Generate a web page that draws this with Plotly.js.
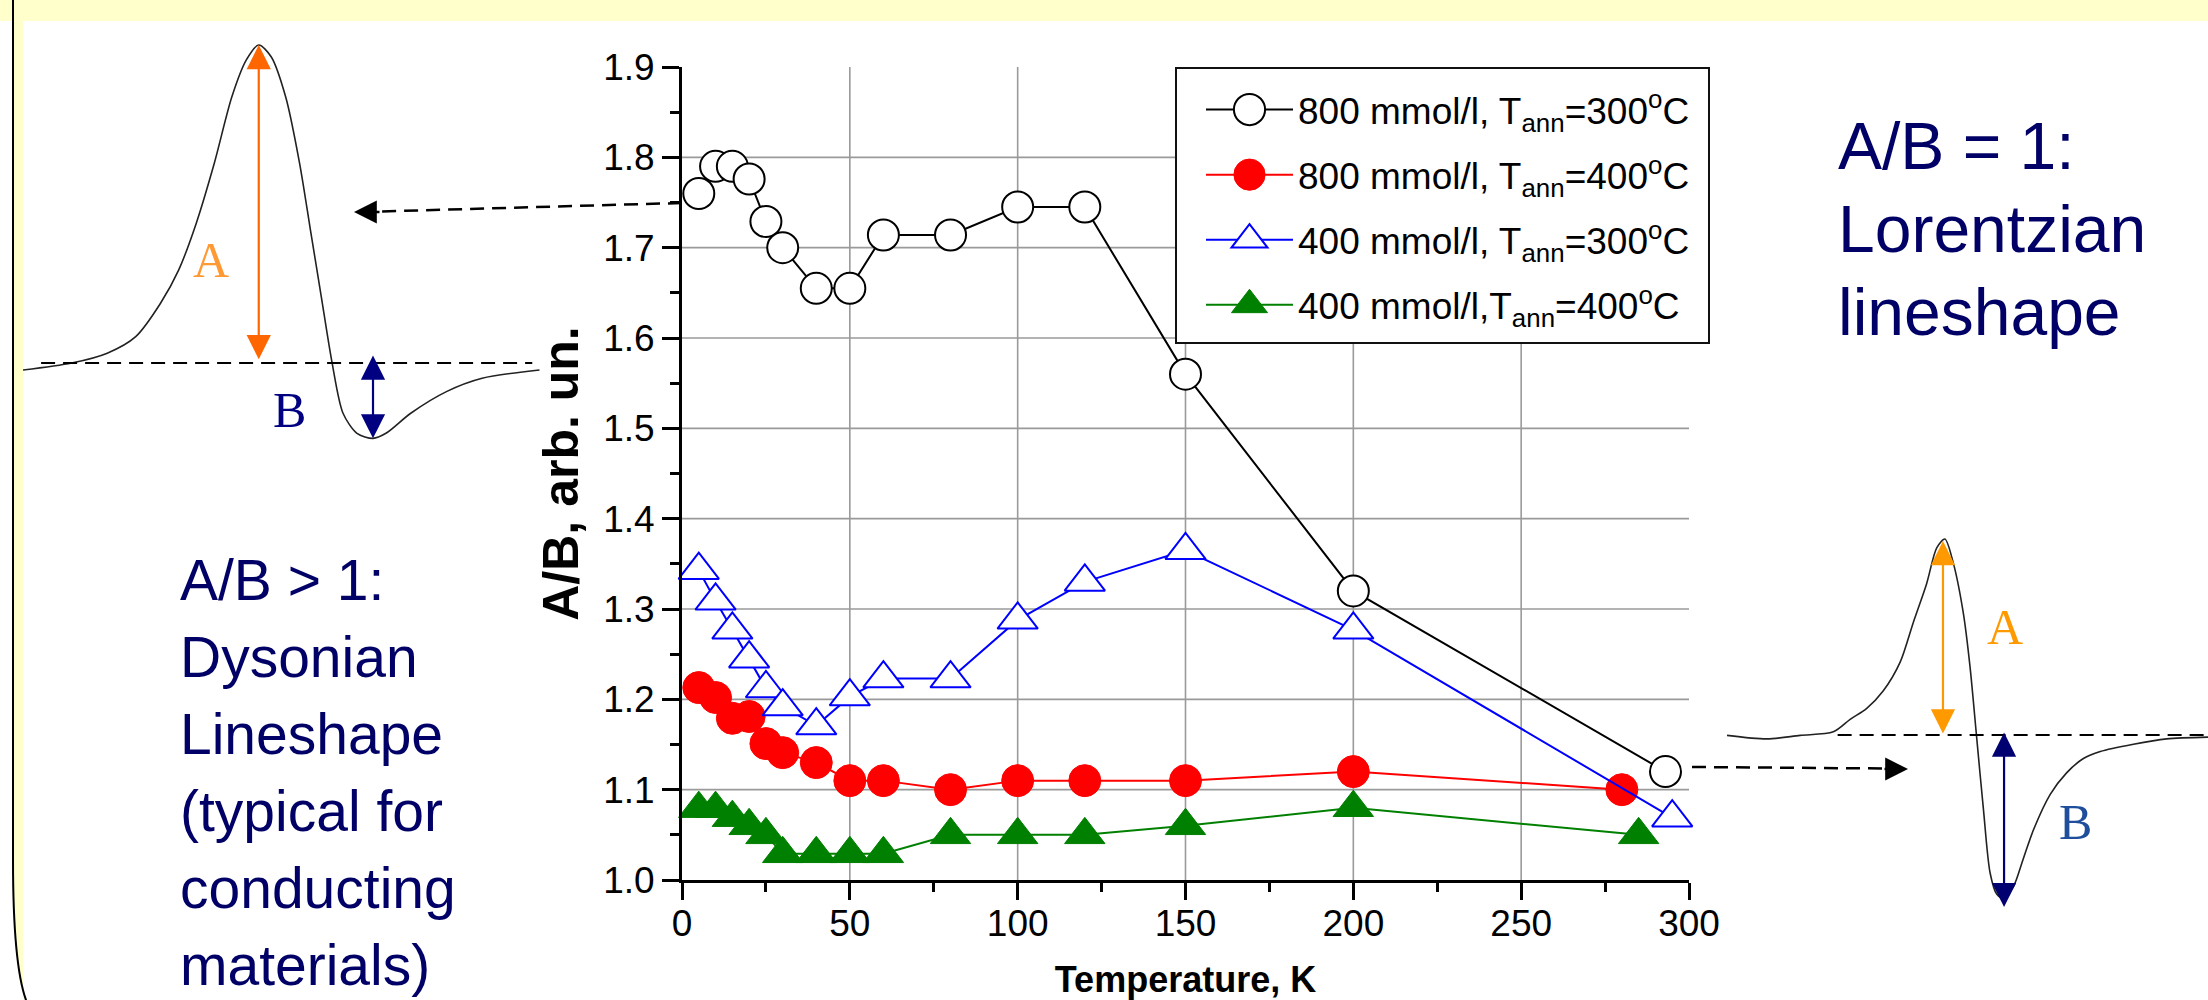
<!DOCTYPE html>
<html><head><meta charset="utf-8">
<script src="https://cdn.plot.ly/plotly-3.0.1.min.js"></script>
<style>html,body{margin:0;padding:0;background:#fff;}#chart{width:2208px;height:1000px;}</style>
</head><body><div id="chart"></div>
<script>
// ---------------- chart data ----------------
const seriesLabels = [
  '800 mmol/l, T<sub>ann</sub>=300<sup>o</sup>C',
  '800 mmol/l, T<sub>ann</sub>=400<sup>o</sup>C',
  '400 mmol/l, T<sub>ann</sub>=300<sup>o</sup>C',
  '400 mmol/l,T<sub>ann</sub>=400<sup>o</sup>C'
];
const temp_800_300 = [5, 10, 15, 20, 25, 30, 40, 50, 60, 80, 100, 120, 150, 200, 293];
const ratio_800_300 = [1.76, 1.79, 1.79, 1.776, 1.729, 1.70, 1.655, 1.655, 1.714, 1.714, 1.745, 1.745, 1.56, 1.32, 1.12];
const temp_800_400 = [5, 10, 15, 20, 25, 30, 40, 50, 60, 80, 100, 120, 150, 200, 280];
const ratio_800_400 = [1.213, 1.202, 1.179, 1.181, 1.151, 1.141, 1.13, 1.11, 1.11, 1.10, 1.11, 1.11, 1.11, 1.12, 1.10];
const temp_400_300 = [5, 10, 15, 20, 25, 30, 40, 50, 60, 80, 100, 120, 150, 200, 295];
const ratio_400_300 = [1.343, 1.309, 1.277, 1.245, 1.212, 1.192, 1.171, 1.203, 1.223, 1.223, 1.288, 1.330, 1.365, 1.277, 1.069];
const temp_400_400 = [5, 10, 15, 20, 25, 30, 40, 50, 60, 80, 100, 120, 150, 200, 285];
const ratio_400_400 = [1.079, 1.079, 1.069, 1.060, 1.050, 1.029, 1.029, 1.029, 1.029, 1.050, 1.050, 1.050, 1.060, 1.080, 1.050];

const xTitle = 'Temperature, K';
const yTitle = 'A/B, arb. un.';
const xRange = [0, 300];
const yRange = [1.0, 1.9];
const xGridVals = [50, 100, 150, 200, 250];
const yGridVals = [1.1, 1.2, 1.3, 1.4, 1.5, 1.6, 1.7, 1.8];

// illustration line shapes (field in arbitrary units, signal relative to baseline)
const dysonField  = [0, 9.4, 16.3, 21.8, 26.6, 30.1, 33.5, 37.0, 40.4, 43.2, 45.6, 48.0, 50.8, 53.5, 55.6, 57.7, 59.8, 61.9, 64.6, 67.7, 70.2, 75.0, 81.9, 88.8, 99.9];
const dysonSignal = [-0.022, 0.0, 0.031, 0.083, 0.188, 0.292, 0.439, 0.628, 0.837, 0.953, 1.0, 0.963, 0.837, 0.628, 0.418, 0.208, -0.001, -0.158, -0.221, -0.237, -0.221, -0.158, -0.090, -0.048, -0.022];
const lorField  = [0, 8.3, 15.2, 22.1, 25.6, 29.0, 32.5, 36.0, 38.7, 41.5, 43.6, 45.3, 47.0, 49.1, 50.5, 51.9, 53.3, 54.7, 56.1, 57.4, 59.5, 61.6, 63.7, 67.2, 70.6, 74.1, 77.6, 84.5, 91.4, 100];
const lorSignal = [-0.002, -0.02, -0.002, 0.016, 0.08, 0.135, 0.226, 0.372, 0.572, 0.772, 0.955, 1.0, 0.882, 0.627, 0.354, -0.011, -0.376, -0.704, -0.813, -0.831, -0.776, -0.631, -0.485, -0.303, -0.193, -0.120, -0.084, -0.047, -0.020, -0.011];

const leftTextLines = ['A/B &gt; 1:', 'Dysonian', 'Lineshape', '(typical for', 'conducting', 'materials)'];
const rightTextLines = ['A/B = 1:', 'Lorentzian', 'lineshape'];

// ---------------- layout helpers ----------------
const W = 2208, H = 1000;
const PX = v => v / W;
const PY = v => 1 - v / H;
const FONT = 'Liberation Sans, Arial, sans-serif';
const SERIF = 'Liberation Serif, Times New Roman, serif';
const NAVY = '#000066';

const styles = [
  {color: '#000000', symbol: 'circle', fill: '#ffffff', size: 31, lw: 2},
  {color: '#ff0000', symbol: 'circle', fill: '#ff0000', size: 32, lw: 1},
  {color: '#0000ff', symbol: 'triangle-up', fill: '#ffffff', size: 35, lw: 2},
  {color: '#008000', symbol: 'triangle-up', fill: '#008000', size: 35, lw: 1}
];
const xs = [temp_800_300, temp_800_400, temp_400_300, temp_400_400];
const ys = [ratio_800_300, ratio_800_400, ratio_400_300, ratio_400_400];

const data = xs.map((x, i) => ({
  type: 'scatter', mode: 'lines+markers', x: x, y: ys[i], name: seriesLabels[i],
  legendgroup: 'g' + i, xaxis: 'x', yaxis: 'y', cliponaxis: false,
  line: {color: styles[i].color, width: 2},
  marker: {symbol: styles[i].symbol, size: styles[i].size, color: styles[i].fill,
           line: {color: styles[i].color, width: styles[i].lw}}
}));
data.push({type: 'scatter', mode: 'lines', x: dysonField, y: dysonSignal, xaxis: 'x2', yaxis: 'y2',
  showlegend: false, hoverinfo: 'skip', line: {color: '#222', width: 1.6, shape: 'spline', smoothing: 0.8}});
data.push({type: 'scatter', mode: 'lines', x: lorField, y: lorSignal, xaxis: 'x3', yaxis: 'y3',
  showlegend: false, hoverinfo: 'skip', line: {color: '#222', width: 1.6, shape: 'spline', smoothing: 0.8}});

function pathStr(cmds) {
  return cmds.map(c => c[0] + c.slice(1).map((p, k) => (k % 2 === 0 ? PX(p) : PY(p)).toFixed(5)).reduce((a, v, k) => a + (k % 2 === 0 ? (k ? ' ' : '') + v : ',' + v), '')).join(' ');
}

const shapes = [];
// slide decoration
shapes.push({type: 'rect', xref: 'paper', yref: 'paper', x0: 0, x1: 1, y0: PY(21), y1: 1.01, fillcolor: '#ffffcc', line: {width: 0}, layer: 'below'});
shapes.push({type: 'path', xref: 'paper', yref: 'paper', layer: 'below', fillcolor: '#ffffcc', line: {width: 0},
  path: pathStr([['M', 13, -5], ['L', 23, -5], ['L', 23, 1005], ['L', 28, 1005], ['C', 19, 985, 13, 940, 13, 860], ['Z']])});
shapes.push({type: 'path', xref: 'paper', yref: 'paper', layer: 'below', line: {width: 2, color: '#000'},
  path: pathStr([['M', 13, -5], ['L', 13, 860], ['C', 13, 940, 19, 985, 28, 1005]])});
// grid lines through the axes' own scales
xGridVals.forEach(v => shapes.push({type: 'line', xref: 'x', yref: 'y domain', x0: v, x1: v, y0: 0, y1: 1, layer: 'below', line: {color: '#9a9a9a', width: 1.6}}));
yGridVals.forEach(v => shapes.push({type: 'line', xref: 'x domain', yref: 'y', x0: 0, x1: 1, y0: v, y1: v, layer: 'below', line: {color: '#9a9a9a', width: 1.6}}));
// legend frame
shapes.push({type: 'rect', xref: 'paper', yref: 'paper', x0: PX(1176), x1: PX(1709), y0: PY(343), y1: PY(68), fillcolor: '#fff', line: {color: '#111', width: 2}, layer: 'above'});
// illustration baselines
shapes.push({type: 'line', xref: 'x2', yref: 'y2', x0: 3.5, x1: 98.5, y0: 0, y1: 0, line: {color: '#000', width: 2, dash: '14px,8px'}});
shapes.push({type: 'line', xref: 'x3', yref: 'y3', x0: 23, x1: 100, y0: 0, y1: 0, line: {color: '#000', width: 2, dash: '14px,8px'}});
// pointers from the chart to the illustrations
shapes.push({type: 'line', xref: 'paper', yref: 'paper', x0: PX(682), y0: PY(203), x1: PX(378), y1: PY(211.5), line: {color: '#000', width: 2.5, dash: '14px,8px'}});
shapes.push({type: 'line', xref: 'paper', yref: 'paper', x0: PX(1692), y0: PY(767), x1: PX(1886), y1: PY(768.5), line: {color: '#000', width: 2.5, dash: '14px,8px'}});

const annotations = [];
function dblArrow(xref, yref, x, y0, y1, color) {
  annotations.push({xref: xref, yref: yref, axref: xref, ayref: yref, x: x, y: y1, ax: x, ay: y0,
    text: '', showarrow: true, arrowside: 'end+start', arrowhead: 2, startarrowhead: 2,
    arrowsize: 2.2, startarrowsize: 2.2, arrowwidth: 2.2, arrowcolor: color, standoff: 0, startstandoff: 0,
    font: {size: 1}, borderpad: 0});
}
dblArrow('x2', 'y2', 45.6, 0.01, 1.0, '#ff6600');
dblArrow('x2', 'y2', 67.7, 0.025, -0.237, '#000080');
dblArrow('x3', 'y3', 44.9, 0.005, 0.99, '#ff9900');
dblArrow('x3', 'y3', 57.6, 0.015, -0.878, '#000070');
function head(x, y, ax) {
  annotations.push({xref: 'paper', yref: 'paper', x: PX(x), y: PY(y), ax: ax, ay: 0, text: '', showarrow: true,
    arrowhead: 2, arrowsize: 1.9, arrowwidth: 2.4, arrowcolor: '#000', standoff: 0, font: {size: 1}, borderpad: 0});
}
head(354, 212, 26);
head(1908, 769, -24);
function label(text, x, y, size, color, family, xanchor) {
  annotations.push({xref: 'paper', yref: 'paper', x: PX(x), y: PY(y), text: text, showarrow: false,
    xanchor: xanchor || 'center', yanchor: 'middle', font: {size: size, color: color, family: family}});
}
label('A', 211, 260, 50, '#ff9933', SERIF);
label('B', 289, 410, 50, '#000080', SERIF);
label('A', 2005, 627, 50, '#ff9900', SERIF);
label('B', 2075, 822, 50, '#1f4e9c', SERIF);
const leftCenters = [580, 657, 734, 811, 888, 965];
leftTextLines.forEach((t, i) => label(t, 178, leftCenters[i], 57, NAVY, FONT, 'left'));
const rightCenters = [146, 229, 312];
rightTextLines.forEach((t, i) => label(t, 1836, rightCenters[i], 66, NAVY, FONT, 'left'));

const axisCommon = {showgrid: false, zeroline: false, showline: true, linewidth: 3, linecolor: '#000',
  ticks: 'outside', ticklen: 17, tickwidth: 3, tickcolor: '#000', fixedrange: true,
  tickfont: {size: 37, color: '#000', family: FONT}};

const layout = {
  width: W, height: H, margin: {l: 0, r: 0, t: 0, b: 0},
  paper_bgcolor: '#ffffff', plot_bgcolor: 'rgba(0,0,0,0)',
  font: {family: FONT, color: '#000'},
  xaxis: Object.assign({}, axisCommon, {domain: [PX(682), PX(1689)], range: xRange, anchor: 'y',
    tick0: 0, dtick: 50, ticklabelstandoff: -8,
    minor: {dtick: 25, ticks: 'outside', ticklen: 9, tickwidth: 3, tickcolor: '#000', showgrid: false},
    title: {text: xTitle, font: {size: 36, weight: 700, color: '#000', family: FONT}, standoff: 26}}),
  yaxis: Object.assign({}, axisCommon, {domain: [PY(880), PY(67)], range: yRange, anchor: 'x',
    tick0: 1, dtick: 0.1, tickformat: '.1f',
    minor: {dtick: 0.05, ticks: 'outside', ticklen: 9, tickwidth: 3, tickcolor: '#000', showgrid: false},
    title: {text: yTitle, font: {size: 50, weight: 700, color: '#000', family: FONT}, standoff: 9}}),
  xaxis2: {domain: [PX(23), PX(540)], range: [0, 100], anchor: 'y2', visible: false, fixedrange: true},
  yaxis2: {domain: [PY(363 + 0.4 * 318), PY(363 - 1.1 * 318)], range: [-0.4, 1.1], anchor: 'x2', visible: false, fixedrange: true},
  xaxis3: {domain: [PX(1727), 1], range: [0, 100], anchor: 'y3', visible: false, fixedrange: true},
  yaxis3: {domain: [PY(735 + 1.1 * 196), PY(735 - 1.2 * 196)], range: [-1.1, 1.2], anchor: 'x3', visible: false, fixedrange: true},
  showlegend: true,
  legend: {x: PX(1201), y: PY(79), xanchor: 'left', yanchor: 'top', bgcolor: 'rgba(0,0,0,0)', borderwidth: 0,
    font: {size: 37, color: '#000', family: FONT}, itemwidth: 87, traceorder: 'grouped', tracegroupgap: 14},
  shapes: shapes,
  annotations: annotations
};

Plotly.newPlot('chart', data, layout, {staticPlot: true, displayModeBar: false}).then(gd => {
  gd.querySelectorAll('.legend .legendpoints path.scatterpts').forEach(p => {
    const t = p.getAttribute('transform') || '';
    p.setAttribute('transform', t + ' scale(1.95)');
    p.style.vectorEffect = 'non-scaling-stroke';
  });
});
</script>
</body></html>
